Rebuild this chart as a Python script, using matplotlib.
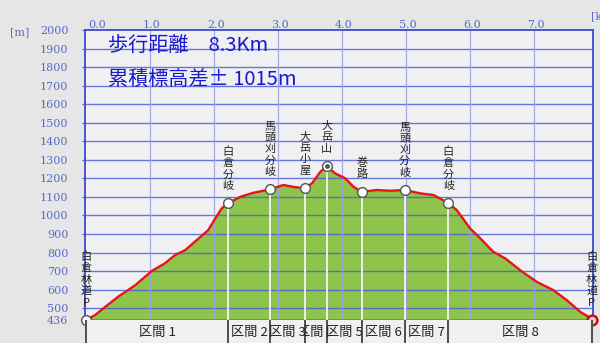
import matplotlib
matplotlib.use('Agg')
import matplotlib.pyplot as plt
from matplotlib.transforms import Bbox, TransformedBbox

plt.rcParams['font.family'] = ['Noto Sans CJK JP', 'DejaVu Sans']

# elevation profile (km, m)
dist_km = [0, 0.14, 0.30, 0.50, 0.77, 1.03, 1.23, 1.39, 1.55, 1.70, 1.91, 2.02, 2.12,
           2.22, 2.41, 2.61, 2.875, 3.08, 3.24, 3.42, 3.53, 3.66, 3.76, 3.89, 4.05,
           4.18, 4.31, 4.54, 4.75, 4.98, 5.22, 5.43, 5.66, 5.79, 6.00, 6.16, 6.36,
           6.55, 6.78, 7.04, 7.30, 7.51, 7.72, 7.85, 7.90]
elev_m = [436, 462, 507, 561, 624, 701, 741, 786, 813, 858, 921, 984, 1038,
          1066, 1100, 1122, 1140, 1164, 1154, 1146, 1173, 1235, 1266, 1227, 1200,
          1154, 1127, 1137, 1133, 1137, 1119, 1110, 1066, 1029, 930, 876, 804,
          768, 705, 642, 597, 543, 480, 453, 436]

# waypoints
wp_names = ['白倉林道P', '白倉分岐', '馬頭刈分岐', '大岳小屋', '大岳山',
            '巻路', '馬頭刈分岐', '白倉分岐', '白倉林道P']
wp_km = [0, 2.22, 2.875, 3.42, 3.76, 4.31, 4.98, 5.66, 7.90]
wp_elev = [436, 1066, 1140, 1146, 1266, 1127, 1137, 1066, 436]

section_labels = ['区間 1', '区間 2', '区間 3', '区間 4', '区間 5', '区間 6', '区間 7', '区間 8']

y_ticks = [436] + list(range(500, 2001, 100))
x_ticks = [0, 1, 2, 3, 4, 5, 6, 7]

W, H = 600, 343
fig = plt.figure(figsize=(6, 3.43), dpi=100, facecolor='#e6e6e6')
ax = fig.add_axes([85 / W, (H - 320) / H, (593 - 85) / W, 290 / H])
strip = fig.add_axes([85 / W, 0, (593 - 85) / W, (H - 320) / H])

xmin, xmax = -0.016, 7.92
ax.set_xlim(xmin, xmax)
ax.set_ylim(436, 2000)
ax.set_facecolor('#f0f0f2')

# profile
ax.fill_between(dist_km, elev_m, 436, color='#8fc44c', zorder=1, lw=0)

# grid drawn over the fill
for y in range(500, 2000, 100):
    ax.axhline(y, color='#4f5fd6', lw=1.0, alpha=0.85, zorder=2)
for x in x_ticks[1:]:
    ax.axvline(x, color='#9aa2e6', lw=0.9, alpha=0.9, zorder=2)

# waypoint drop lines
for k, e in zip(wp_km[1:-1], wp_elev[1:-1]):
    ax.plot([k, k], [436, e], color='#f4f4f4', lw=1.3, zorder=3)

ax.plot(dist_km, elev_m, color='#e8141a', lw=1.7, zorder=4, solid_joinstyle='round')

# markers and vertical labels
for i, (k, e) in enumerate(zip(wp_km, wp_elev)):
    if wp_names[i] == '大岳山':
        ax.plot(k, e, 'o', ms=7, mfc='white', mec='#555555', mew=1, zorder=6, clip_on=False)
        ax.plot(k, e, 'o', ms=2.5, mfc='#555555', mec='#555555', zorder=7, clip_on=False)
    elif i == len(wp_km) - 1:
        ax.plot(k, e, 'o', ms=7, mfc='#f5d0c8', mec='#cc1010', mew=1.8, zorder=6, clip_on=False)
    else:
        ax.plot(k, e, 'o', ms=7, mfc='white', mec='#555555', mew=1, zorder=6, clip_on=False)
    ax.annotate('\n'.join(wp_names[i]), (k, e), xytext=(0, 9), textcoords='offset points',
                ha='center', va='bottom', fontsize=8, color='#222222', linespacing=1.15,
                zorder=8, annotation_clip=False)

# summary text
fig.text(108 / W, 1 - 46 / H, '歩行距離　8.3Km', fontsize=14.5, color='#1818d0',
         va='center', ha='left')
fig.text(108 / W, 1 - 80 / H, '累積標高差± 1015m', fontsize=14.5, color='#1818d0',
         va='center', ha='left')

# y axis
ax.set_yticks(y_ticks)
ax.set_yticklabels([str(v) for v in y_ticks], family='DejaVu Serif', fontsize=8,
                   color='#5a6ac8')
ax.tick_params(axis='y', length=2, pad=10, color='#4f5fd6')
ax.set_xticks([])
for sp in ax.spines.values():
    sp.set_color('#4455d4')
    sp.set_linewidth(1.4)
ax.spines['bottom'].set_color('#7a80a8')

# top x labels
for x in x_ticks:
    lx = x + 0.17 if x == 0 else x + 0.03
    ax.text(lx, 2000, f'{x:.1f}', ha='center', va='bottom', fontsize=8,
            family='DejaVu Serif', color='#5a6ac8')
fig.text(10 / W, 1 - 32 / H, '[m]', fontsize=8, family='DejaVu Serif', color='#5a6ac8',
         va='center', ha='left')
fig.text(591 / W, 1 - 16 / H, '[km]', fontsize=8, family='DejaVu Serif', color='#5a6ac8',
         va='center', ha='left')

# section strip
strip.set_xlim(xmin, xmax)
strip.set_ylim(0, 1)
strip.set_facecolor('#f0f0f0')
strip.set_xticks([])
strip.set_yticks([])
for sp in strip.spines.values():
    sp.set_visible(False)
for i, lab in enumerate(section_labels):
    x0, x1 = wp_km[i], wp_km[i + 1]
    t = strip.text((x0 + x1) / 2, 0.45, lab, ha='center', va='center', fontsize=9.5,
                   color='#222222')
    t.set_clip_on(True)
    t.set_clip_box(TransformedBbox(Bbox([[x0, 0], [x1, 1]]), strip.transData))
for k in wp_km:
    strip.axvline(k, color='#333333', lw=1.2)

fig.savefig('out.png', dpi=100, facecolor=fig.get_facecolor())
